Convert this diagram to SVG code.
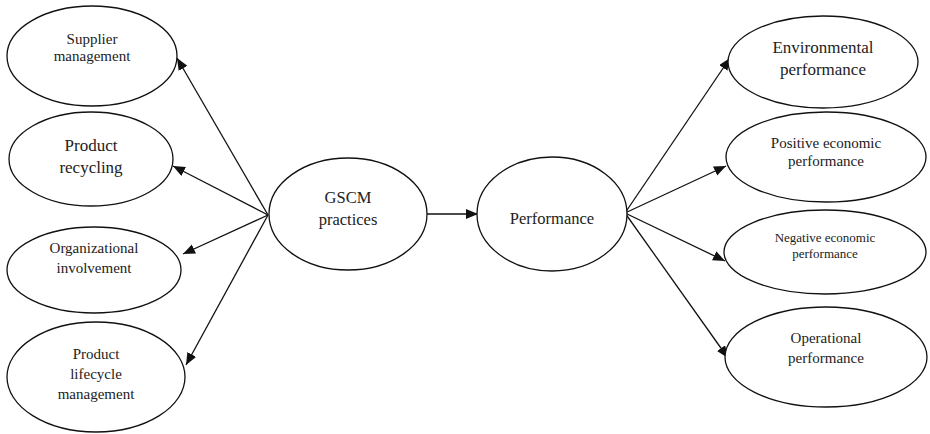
<svg xmlns="http://www.w3.org/2000/svg" width="930" height="434" viewBox="0 0 930 434">
<defs>
<style>
.n ellipse{fill:#fff;stroke:#111;stroke-width:1.3}
text{font-family:"Liberation Serif","Times New Roman",serif;fill:#222;text-anchor:middle}
.e line{stroke:#111;stroke-width:1.3;marker-end:url(#ah)}
</style>
<marker id="ah" markerUnits="userSpaceOnUse" markerWidth="14" markerHeight="12" refX="12" refY="5" orient="auto">
<path d="M0,0 L12,5 L0,10 Z" fill="#111"/>
</marker>
</defs>
<rect width="930" height="434" fill="#fff"/>
<g class="e" id="connectors">
<line x1="268" y1="215" x2="177" y2="58"/>
<line x1="268" y1="215" x2="173" y2="166"/>
<line x1="268" y1="215" x2="183" y2="254"/>
<line x1="268" y1="215" x2="186" y2="365"/>
<line x1="427" y1="214" x2="478" y2="214"/>
<line x1="625" y1="213" x2="730" y2="58"/>
<line x1="625" y1="213" x2="726" y2="166"/>
<line x1="625" y1="213" x2="725" y2="261"/>
<line x1="625" y1="213" x2="728" y2="358"/>
</g>
<g class="n" id="supplier">
<ellipse cx="92" cy="56" rx="85" ry="50"/>
<text x="92" y="44" font-size="15">Supplier</text>
<text x="92" y="61" font-size="15">management</text>
</g>
<g class="n" id="recycling">
<ellipse cx="91" cy="159" rx="82" ry="47"/>
<text x="91" y="151" font-size="17">Product</text>
<text x="91" y="173" font-size="17">recycling</text>
</g>
<g class="n" id="organizational">
<ellipse cx="94" cy="270" rx="87" ry="43"/>
<text x="94" y="253" font-size="15">Organizational</text>
<text x="94" y="273" font-size="15">involvement</text>
</g>
<g class="n" id="lifecycle">
<ellipse cx="96" cy="377" rx="89" ry="55"/>
<text x="96" y="359" font-size="15">Product</text>
<text x="96" y="379" font-size="15">lifecycle</text>
<text x="96" y="399" font-size="15">management</text>
</g>
<g class="n" id="gscm">
<ellipse cx="348" cy="214" rx="79" ry="56"/>
<text x="348" y="203" font-size="16.5">GSCM</text>
<text x="348" y="225" font-size="16.5">practices</text>
</g>
<g class="n" id="performance">
<ellipse cx="552" cy="214" rx="75" ry="57"/>
<text x="552" y="224" font-size="16.5">Performance</text>
</g>
<g class="n" id="environmental">
<ellipse cx="823" cy="62" rx="95" ry="46"/>
<text x="823" y="53" font-size="17">Environmental</text>
<text x="823" y="75" font-size="17">performance</text>
</g>
<g class="n" id="positive">
<ellipse cx="826" cy="157" rx="100" ry="45"/>
<text x="826" y="148" font-size="15">Positive economic</text>
<text x="826" y="166" font-size="15">performance</text>
</g>
<g class="n" id="negative">
<ellipse cx="825" cy="252" rx="101" ry="42"/>
<text x="825" y="242" font-size="13">Negative economic</text>
<text x="825" y="258" font-size="13">performance</text>
</g>
<g class="n" id="operational">
<ellipse cx="826" cy="357" rx="101" ry="50"/>
<text x="826" y="343" font-size="15">Operational</text>
<text x="826" y="363" font-size="15">performance</text>
</g>
</svg>
